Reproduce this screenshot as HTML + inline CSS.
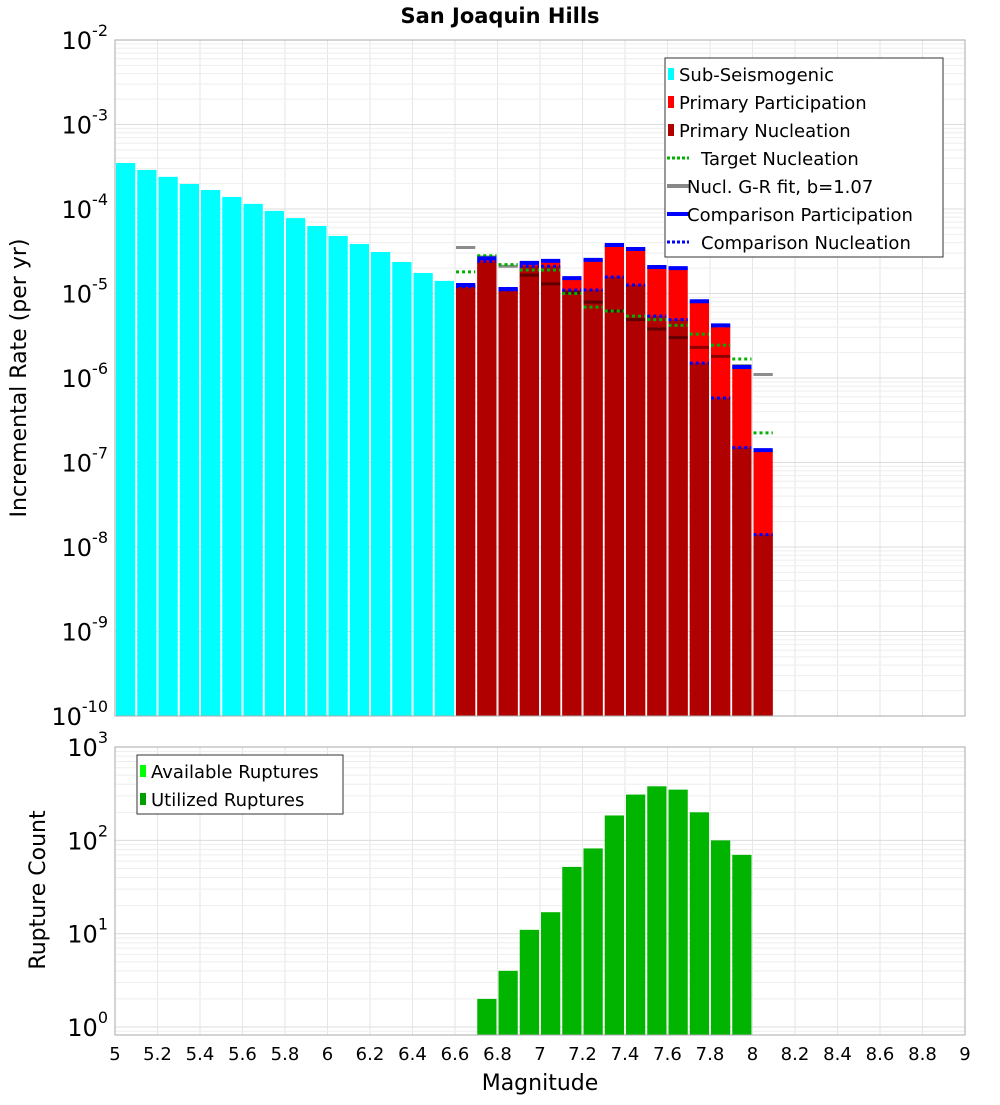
<!DOCTYPE html>
<html><head><meta charset="utf-8"><style>
body{margin:0;background:#fff;}
svg text{font-family:"DejaVu Sans","Liberation Sans",sans-serif;}
</style></head><body>
<svg id="c" width="1000" height="1100" xmlns="http://www.w3.org/2000/svg"></svg>
<script>
const subMags=[5.05,5.15,5.25,5.35,5.45,5.55,5.65,5.75,5.85,5.95,6.05,6.15,6.25,6.35,6.45,6.55];
const subRates=[3.5e-4,2.9e-4,2.4e-4,1.98e-4,1.68e-4,1.39e-4,1.15e-4,9.5e-5,7.8e-5,6.3e-5,4.8e-5,3.85e-5,3.1e-5,2.36e-5,1.75e-5,1.41e-5];
const priMags=[6.65,6.75,6.85,6.95,7.05,7.15,7.25,7.35,7.45,7.55,7.65,7.75,7.85,7.95,8.05];
const partRates=[1.26e-5,2.6e-5,1.13e-5,2.3e-5,2.43e-5,1.52e-5,2.5e-5,3.75e-5,3.36e-5,2.06e-5,2.0e-5,8.1e-6,4.2e-6,1.35e-6,1.4e-7];
const nuclRates=[1.2e-5,2.4e-5,1.1e-5,2.1e-5,2.1e-5,1.1e-5,1.1e-5,1.57e-5,1.26e-5,5.4e-6,4.9e-6,1.5e-6,5.8e-7,1.5e-7,1.4e-8];
const targetRates=[1.8e-5,2.8e-5,2.2e-5,1.9e-5,1.9e-5,1.0e-5,6.9e-6,6.2e-6,5.4e-6,4.9e-6,4.2e-6,3.3e-6,2.45e-6,1.68e-6,2.24e-7];
const grRates=[3.5e-5,2.7e-5,2.1e-5,1.65e-5,1.3e-5,1.02e-5,7.9e-6,6.2e-6,4.9e-6,3.8e-6,3.0e-6,2.3e-6,1.8e-6,1.4e-6,1.1e-6];
const compPartRates=[1.26e-5,2.6e-5,1.13e-5,2.3e-5,2.43e-5,1.52e-5,2.5e-5,3.75e-5,3.36e-5,2.06e-5,2.0e-5,8.1e-6,4.2e-6,1.35e-6,1.4e-7];
const compNuclRates=[1.2e-5,2.4e-5,1.1e-5,2.1e-5,2.1e-5,1.1e-5,1.1e-5,1.57e-5,1.26e-5,5.4e-6,4.9e-6,1.5e-6,5.8e-7,1.5e-7,1.4e-8];
const cntMags=[6.75,6.85,6.95,7.05,7.15,7.25,7.35,7.45,7.55,7.65,7.75,7.85,7.95];
const cntValues=[2,4,11,17,52,82,185,310,380,350,200,100,70];
const xTicks=["5","5.2","5.4","5.6","5.8","6","6.2","6.4","6.6","6.8","7","7.2","7.4","7.6","7.8","8","8.2","8.4","8.6","8.8","9"];
const topExps=[-2,-3,-4,-5,-6,-7,-8,-9,-10];
const botExps=[3,2,1,0];

const NS="http://www.w3.org/2000/svg";
const svg=document.getElementById('c');
function el(t,a,p){const e=document.createElementNS(NS,t);for(const k in a)e.setAttribute(k,a[k]);(p||svg).appendChild(e);return e;}
const X0=115,X1=965;
const xs=m=>X0+(m-5)/4*(X1-X0);
const T0=40,T1=716;
const yt=v=>T0+(-2-Math.log10(v))/8*(T1-T0);
const B0=747,B1=1035;
const yb=v=>1027-Math.log10(v)*93.3;
const bw=(X1-X0)/40;

function grid(top,bot,fn,lo,hi){
  const g=el('g',{});
  
  for(let i=0;i<=20;i++){const x=xs(5+i*0.2);el('line',{x1:x,x2:x,y1:top,y2:bot,stroke:'#e6e6e6'},g);}
  for(let e=lo;e<hi;e++)for(let k=1;k<10;k++){const y=fn(k*Math.pow(10,e));if(y<top||y>bot)continue;
    el('line',{x1:X0,x2:X1,y1:y,y2:y,stroke:k==1?'#dcdcdc':'#eeeeee'},g);}
}
grid(T0,T1,yt,-10,-2);
grid(B0,B1,yb,-1,3);

// top bars
const gs=el('g',{});
subMags.forEach((m,i)=>{const y=yt(subRates[i]);const r=el('rect',{x:xs(m-0.05)+1,y:y,width:bw-2,height:T1-y,fill:'#00ffff'},gs);
  });
const gp=el('g',{});
priMags.forEach((m,i)=>{const y=yt(partRates[i]);const r=el('rect',{x:xs(m-0.05)+1,y:y,width:bw-2,height:T1-y,fill:'#ff0000'},gp);
  });
const gn=el('g',{});
priMags.forEach((m,i)=>{const y=yt(nuclRates[i]);const r=el('rect',{x:xs(m-0.05)+1,y:y,width:bw-2,height:T1-y,fill:'#b00000'},gn);
  });
function seg(arr,name,attrs){const g=el('g',{});
  priMags.forEach((m,i)=>{const y=yt(arr[i]);const l=el('line',Object.assign({x1:xs(m-0.05)+1,x2:xs(m+0.05)-1,y1:y,y2:y},attrs),g);
  });}
seg(grRates,'gr-fit',{stroke:'rgba(0,0,0,0.45)','stroke-width':3});
seg(targetRates,'target-nucleation',{stroke:'#00b000','stroke-width':3,'stroke-dasharray':'3,3'});
seg(compPartRates,'comparison-participation',{stroke:'#0000ff','stroke-width':4});
seg(compNuclRates,'comparison-nucleation',{stroke:'#0000ff','stroke-width':3,'stroke-dasharray':'3,3'});

// bottom bars
const gb=el('g',{});
cntMags.forEach((m,i)=>{const y=yb(cntValues[i]);const r=el('rect',{x:xs(m-0.05)+1,y:y,width:bw-2,height:B1-y,fill:'#00b400'},gb);
  });

// frames
el('rect',{x:X0,y:T0,width:X1-X0,height:T1-T0,fill:'none',stroke:'#aaa'});
el('rect',{x:X0,y:B0,width:X1-X0,height:B1-B0,fill:'none',stroke:'#aaa'});

// y tick labels
function ylab(y,e,name){const t=el('text',{x:108,y:y+9,'font-size':24,'text-anchor':'end',fill:'#000'});
  
  const a=document.createElementNS(NS,'tspan');a.textContent='10';t.appendChild(a);
  const b=document.createElementNS(NS,'tspan');b.setAttribute('dy','-13');b.setAttribute('font-size','16');b.textContent=String(e);t.appendChild(b);
  // shift right to end with superscript
}
topExps.forEach(e=>ylab(yt(Math.pow(10,e)),e,'y-tick-label'));
botExps.forEach(e=>ylab(yb(Math.pow(10,e)),e,'y2-tick-label'));
xTicks.forEach((s,i)=>{const t=el('text',{x:xs(5+i*0.2),y:1060,'font-size':18,'text-anchor':'middle'});t.textContent=s;
  });

// legends
function legend(x,y,w,h,items,name){const g=el('g',{});
  el('rect',{x:x,y:y,width:w,height:h,fill:'#fff',stroke:'#333'},g);
  items.forEach((it,i)=>{const cy=y+15+i*28;
    if(it.t=='box')el('rect',{x:x+3,y:cy-5,width:6,height:12,fill:it.c},g);
    else el('line',{x1:x+2,x2:x+24,y1:cy+1,y2:cy+1,stroke:it.c,'stroke-width':it.t=='dot'?3:4,'stroke-dasharray':it.t=='dot'?'3,2':'none'},g);
    const tx=el('text',{x:x+(it.t=='box'?14:it.t=='dot'?36:22),y:cy+8,'font-size':18},g);tx.textContent=it.l;
    });}
legend(665,58,278,199,[{t:'box',c:'#00ffff',l:'Sub-Seismogenic'},{t:'box',c:'#ff0000',l:'Primary Participation'},{t:'box',c:'#b00000',l:'Primary Nucleation'},
 {t:'dot',c:'#00b000',l:'Target Nucleation'},{t:'line',c:'#888',l:'Nucl. G-R fit, b=1.07'},{t:'line',c:'#0000ff',l:'Comparison Participation'},{t:'dot',c:'#0000ff',l:'Comparison Nucleation'}],'top-legend');
legend(137,755,206,59,[{t:'box',c:'#00ff00',l:'Available Ruptures'},{t:'box',c:'#00a000',l:'Utilized Ruptures'}],'bottom-legend');

// titles
let t=el('text',{x:500,y:23,'font-size':21,'font-weight':'bold','text-anchor':'middle'});t.textContent='San Joaquin Hills';

t=el('text',{x:540,y:1090,'font-size':22,'text-anchor':'middle'});t.textContent='Magnitude';

t=el('text',{x:0,y:0,'font-size':22,'text-anchor':'middle',transform:'translate(26,378) rotate(-90)'});t.textContent='Incremental Rate (per yr)';

t=el('text',{x:0,y:0,'font-size':22,'text-anchor':'middle',transform:'translate(45,890) rotate(-90)'});t.textContent='Rupture Count';

</script>
</body></html>
